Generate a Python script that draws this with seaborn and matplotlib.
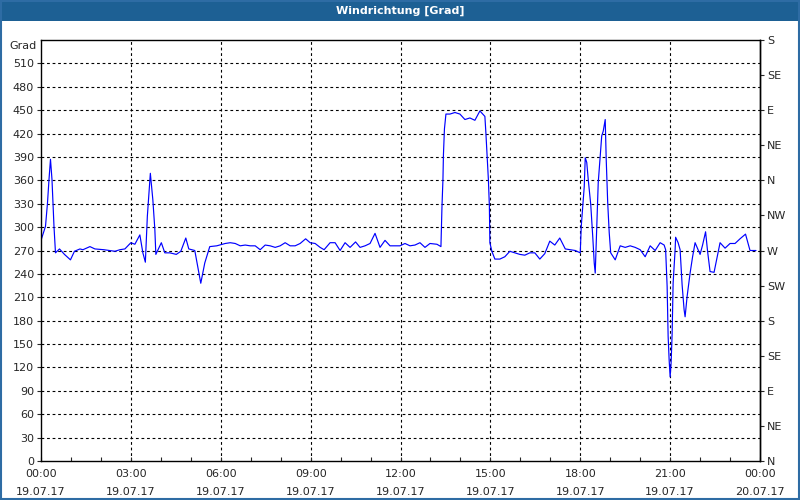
import matplotlib
matplotlib.use("Agg")
import matplotlib.pyplot as plt
import matplotlib.dates as mdates
from matplotlib.patches import Rectangle
import seaborn as sns
import pandas as pd

# minutes after 19.07.17 00:00
minutes = [0, 9, 13, 16, 19, 22, 26, 29, 37, 47, 59, 67, 78, 84, 98, 108, 126, 148, 158, 168,
           180, 188, 198, 204, 209, 213, 219, 224, 228, 230, 241, 248, 258, 271, 280, 290, 296,
           308, 320, 328, 338, 352, 369, 379, 389, 399, 409, 419, 429, 439, 449, 459, 469, 479,
           489, 499, 509, 519, 530, 539, 549, 559, 567, 579, 589, 599, 609, 619, 630, 639, 649,
           659, 669, 679, 689, 699, 709, 719, 729, 739, 749, 759, 769, 779, 793, 801, 803, 805,
           806, 808, 811, 819, 829, 839, 849, 859, 869, 879, 889, 891, 896, 898, 899, 903, 909,
           919, 929, 939, 949, 959, 969, 979, 989, 999, 1009, 1019, 1029, 1039, 1050, 1060, 1070,
           1080, 1082, 1085, 1088, 1090, 1093, 1096, 1101, 1105, 1108, 1110, 1113, 1116, 1120,
           1123, 1126, 1130, 1132, 1135, 1138, 1141, 1150, 1160, 1170, 1180, 1190, 1200, 1210,
           1220, 1230, 1240, 1248, 1251, 1254, 1256, 1258, 1260, 1262, 1264, 1266, 1270, 1271,
           1276, 1280, 1284, 1288, 1290, 1294, 1300, 1305, 1310, 1314, 1320, 1325, 1331, 1335,
           1340, 1348, 1353, 1360, 1370, 1380, 1390, 1400, 1411, 1420, 1432]
direction = [283, 301, 331, 361, 387, 361, 301, 267, 272, 265, 258, 269, 272, 271, 275, 272, 271,
             269, 271, 272, 280, 278, 290, 267, 255, 314, 369, 335, 297, 265, 280, 267, 267, 265,
             269, 286, 272, 270, 228, 254, 275, 276, 279, 280, 279, 276, 277, 276, 276, 271, 277,
             276, 274, 276, 280, 276, 276, 279, 285, 280, 279, 274, 271, 280, 280, 270, 280, 274,
             281, 274, 276, 279, 292, 274, 283, 276, 276, 276, 279, 276, 277, 280, 274, 279, 278,
             275, 325, 361, 393, 426, 445, 445, 447, 445, 438, 440, 437, 449, 442, 421, 361, 327,
             280, 269, 259, 259, 262, 269, 267, 265, 264, 267, 267, 259, 266, 282, 277, 286, 272,
             271, 270, 267, 301, 327, 352, 389, 383, 361, 329, 288, 254, 241, 301, 357, 391, 417,
             423, 438, 387, 331, 293, 267, 258, 276, 274, 276, 274, 271, 262, 276, 270, 280, 277,
             271, 224, 160, 130, 108, 126, 163, 228, 271, 287, 280, 271, 226, 194, 185, 211, 241,
             262, 280, 274, 265, 277, 294, 269, 243, 242, 258, 280, 273, 279, 279, 285, 291, 270,
             270]

left_ticks = list(range(0, 540, 30))
right_ticks = list(range(0, 541, 45))
right_labels = ["N", "NE", "E", "SE", "S", "SW", "W", "NW", "N", "NE", "E", "SE", "S"]
title = "Windrichtung [Grad]"
unit = "Grad"

start = pd.Timestamp("2017-07-19 00:00")
df = pd.DataFrame({
    "time": [start + pd.Timedelta(minutes=m) for m in minutes],
    "dir": direction,
})

sns.set_style("white")
plt.rcParams["font.family"] = ["DejaVu Sans"]

fig = plt.figure(figsize=(8, 5), dpi=100, facecolor="white")
ax = fig.add_axes([41 / 800, 1 - 461 / 500, 719 / 800, 421 / 500])

sns.lineplot(data=df, x="time", y="dir", ax=ax, color="#0000ff", linewidth=0.85)

ax.set_xlim(start, start + pd.Timedelta(hours=24))
ax.set_ylim(0, 540)
ax.set_xlabel("")
ax.set_ylabel("")

ax.set_yticks(left_ticks)
ax.set_yticklabels([str(t) for t in left_ticks], fontsize=8)
ax.tick_params(axis="y", direction="out", length=3, width=0.8, pad=2, left=True)

ax.xaxis.set_major_locator(mdates.HourLocator(byhour=range(0, 24, 3)))
ax.xaxis.set_minor_locator(mdates.HourLocator())
ax.xaxis.set_major_formatter(mdates.DateFormatter("%H:%M\n%d.%m.%y"))
ax.tick_params(axis="x", which="both", direction="in", length=3, width=0.8, pad=6,
               bottom=True, labelsize=8)
for lbl in ax.get_xticklabels():
    lbl.set_linespacing(1.9)

ax.grid(False)
for t in left_ticks[1:]:
    ax.axhline(t, color="black", lw=0.8, ls=(0, (2.5, 2.5)), zorder=0)
for h in range(3, 24, 3):
    ax.axvline(start + pd.Timedelta(hours=h), color="black", lw=0.8, ls=(0, (2.5, 2.5)), zorder=0)

for s in ["left", "bottom", "top", "right"]:
    ax.spines[s].set_visible(True)
    ax.spines[s].set_color("black")
    ax.spines[s].set_linewidth(1.0)

ax2 = ax.twinx()
ax2.set_ylim(0, 540)
ax2.set_yticks(right_ticks)
ax2.set_yticklabels(right_labels, fontsize=8)
ax2.tick_params(axis="y", direction="out", length=3, width=0.8, pad=2, right=True)
for s in ["left", "bottom", "top"]:
    ax2.spines[s].set_visible(False)
ax2.spines["right"].set_color("black")
ax2.spines["right"].set_linewidth(1.0)

fig.text(37 / 800, 1 - 46 / 500, unit, ha="right", va="center", fontsize=8)

# title bar and frame
fig.patches.append(Rectangle((0, 1 - 21 / 500), 1, 21 / 500, transform=fig.transFigure,
                             facecolor="#1d6094", edgecolor="none", zorder=0))
fig.text(0.5, 1 - 10.5 / 500, title, ha="center", va="center", color="white",
         fontsize=8, fontweight="bold")
fig.patches.append(Rectangle((0.001, 0.002), 0.998, 0.996, transform=fig.transFigure,
                             facecolor="none", edgecolor="#2e6ca4", linewidth=1.5, zorder=0))

fig.savefig("out.png", dpi=100, facecolor="white")
